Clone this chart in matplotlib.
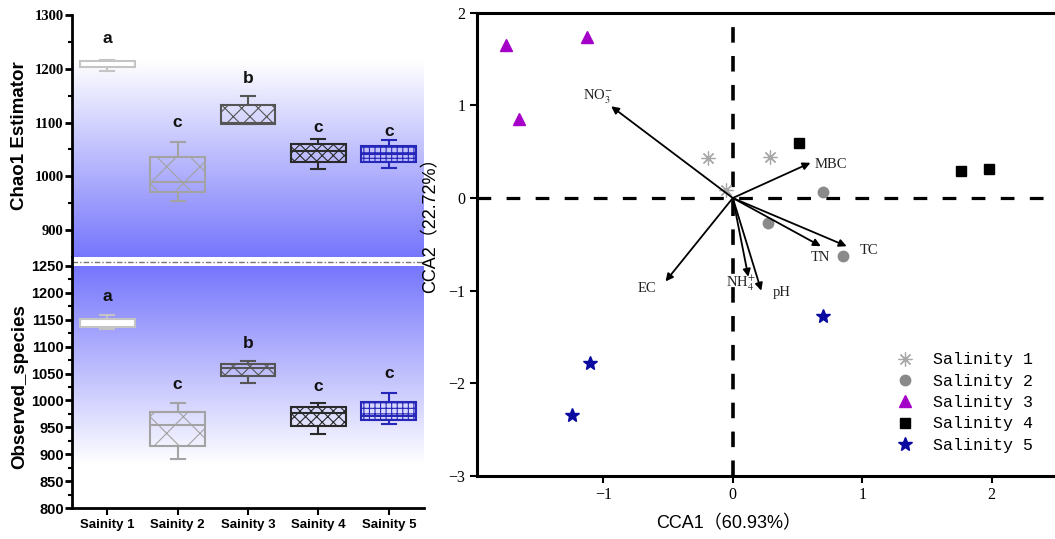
import numpy as np
import matplotlib
matplotlib.use("Agg")
import matplotlib.pyplot as plt
from matplotlib.lines import Line2D

plt.rcParams['mathtext.fontset'] = 'stix'

# ---------------- data ----------------
groups = ["Sainity 1", "Sainity 2", "Sainity 3", "Sainity 4", "Sainity 5"]
letters_chao = ["a", "c", "b", "c", "c"]
letters_obs = ["a", "c", "b", "c", "c"]

chao_whislo = [1196, 954, 1097, 1013, 1016]
chao_q1 = [1203, 970, 1098, 1026, 1026]
chao_med = [1210, 990, 1100, 1047, 1041]
chao_q3 = [1215, 1036, 1132, 1060, 1056]
chao_whishi = [1216, 1064, 1149, 1070, 1067]
chao_letter_y = [1257, 1101, 1181, 1091, 1083]

obs_whislo = [1133, 892, 1033, 938, 956]
obs_q1 = [1136, 916, 1045, 953, 963]
obs_med = [1138, 954, 1060, 977, 972]
obs_q3 = [1151, 978, 1067, 987, 998]
obs_whishi = [1158, 996, 1074, 995, 1014]
obs_letter_y = [1193, 1030, 1105, 1026, 1051]

box_colors = ["#c4c4c4", "#a3a3a3", "#555555", "#2a2a2a", "#2626b8"]
box_hatches = ["", "x", "xx", "xxx", "+++"]

# CCA sample scores
sal_names = ["Salinity 1", "Salinity 2", "Salinity 3", "Salinity 4", "Salinity 5"]
sal1_x = [-0.195, 0.29, -0.05]
sal1_y = [0.43, 0.44, 0.09]
sal2_x = [0.70, 0.27, 0.85]
sal2_y = [0.06, -0.27, -0.63]
sal3_x = [-1.75, -1.13, -1.65]
sal3_y = [1.65, 1.74, 0.85]
sal4_x = [0.51, 1.76, 1.98]
sal4_y = [0.59, 0.29, 0.31]
sal5_x = [0.70, -1.10, -1.24]
sal5_y = [-1.27, -1.78, -2.34]

# environmental vectors
env_names = ["NO$_3^{-}$", "MBC", "TC", "TN", "EC", "NH$_4^{+}$", "pH"]
env_x = [-0.94, 0.60, 0.88, 0.68, -0.52, 0.12, 0.22]
env_y = [0.99, 0.38, -0.52, -0.52, -0.90, -0.85, -1.00]

# ---------------- figure ----------------
fig = plt.figure(figsize=(10.55, 5.39), dpi=100)

L, W = 72 / 1055, 352 / 1055
H = 242 / 539
ax_top = fig.add_axes([L, 1 - 257 / 539, W, H])
ax_bot = fig.add_axes([L, 1 - 508 / 539, W, H])

blue = np.array([118, 118, 252]) / 255.0
white = np.array([1.0, 1.0, 1.0])


def gradient(ax, y_white, y_blue, x0=0.5, x1=5.5):
    n = 256
    t = np.linspace(0, 1, n)[:, None]
    img = (white[None, None, :] * (1 - t[..., None]) + blue[None, None, :] * t[..., None])
    img = np.repeat(img, 2, axis=1)
    lo, hi = min(y_white, y_blue), max(y_white, y_blue)
    ax.imshow(img, extent=[x0, x1, lo, hi], origin='lower' if y_white < y_blue else 'upper',
              aspect='auto', zorder=0, interpolation='bilinear')


positions = np.arange(1, 6)


def draw_boxes(ax, wl, q1, med, q3, wh, ly, letters):
    stats = []
    for i in range(5):
        stats.append(dict(med=med[i], q1=q1[i], q3=q3[i], whislo=wl[i], whishi=wh[i], fliers=[]))
    bp = ax.bxp(stats, positions=positions, widths=0.78, patch_artist=True,
                showfliers=False, capwidths=0.2, manage_ticks=False)
    for i in range(5):
        c = box_colors[i]
        b = bp['boxes'][i]
        b.set_facecolor('none' if i > 0 else 'white')
        b.set_edgecolor(c)
        b.set_hatch(box_hatches[i])
        b.set_linewidth(1.5)
        b.set_zorder(3)
        bp['medians'][i].set_color(c)
        bp['medians'][i].set_linewidth(1.5)
        for k in (2 * i, 2 * i + 1):
            bp['whiskers'][k].set_color(c)
            bp['whiskers'][k].set_linewidth(1.5)
            bp['caps'][k].set_color(c)
            bp['caps'][k].set_linewidth(1.5)
        ax.text(positions[i], ly[i], letters[i], ha='center', va='center',
                fontsize=12.5, fontweight='bold', family='Liberation Sans', color='#111111')


plt.rcParams['hatch.linewidth'] = 0.8

# top panel
gradient(ax_top, 1215, 850)
draw_boxes(ax_top, chao_whislo, chao_q1, chao_med, chao_q3, chao_whishi, chao_letter_y, letters_chao)
ax_top.set_xlim(0.5, 5.5)
ax_top.set_ylim(850, 1300)
ax_top.set_yticks([900, 1000, 1100, 1200, 1300])
ax_top.set_yticks([950, 1050, 1150, 1250], minor=True)
ax_top.set_xticks([])
for s in ['top', 'right', 'bottom']:
    ax_top.spines[s].set_visible(False)
ax_top.spines['left'].set_linewidth(2)
ax_top.tick_params(axis='y', which='major', length=5, width=2, labelsize=10.5, pad=1)
ax_top.tick_params(axis='y', which='minor', length=3, width=1.5)
for lab in ax_top.get_yticklabels():
    lab.set_family('Liberation Serif')
    lab.set_fontweight('bold')
ax_top.set_ylabel("Chao1 Estimator", fontsize=13.5, fontweight='bold', family='Liberation Sans')

# bottom panel
gradient(ax_bot, 880, 1250)
draw_boxes(ax_bot, obs_whislo, obs_q1, obs_med, obs_q3, obs_whishi, obs_letter_y, letters_obs)
ax_bot.set_xlim(0.5, 5.5)
ax_bot.set_ylim(800, 1250)
ax_bot.set_yticks(np.arange(800, 1251, 50))
ax_bot.set_yticks(np.arange(825, 1250, 50), minor=True)
ax_bot.set_xticks(positions)
ax_bot.set_xticklabels(groups)
for s in ['top', 'right']:
    ax_bot.spines[s].set_visible(False)
ax_bot.spines['left'].set_linewidth(2)
ax_bot.spines['bottom'].set_linewidth(2)
ax_bot.tick_params(axis='y', which='major', length=5, width=2, labelsize=10.5, pad=1)
ax_bot.tick_params(axis='y', which='minor', length=3, width=1.5)
ax_bot.tick_params(axis='x', length=5, width=1.5, labelsize=9.5, pad=3)
for lab in ax_bot.get_yticklabels() + ax_bot.get_xticklabels():
    lab.set_family('Liberation Sans')
    lab.set_fontweight('bold')
ax_bot.set_ylabel("Observed_species", fontsize=13.5, fontweight='bold', family='Liberation Sans')
ax_top.yaxis.set_label_coords(-0.125, 0.5)
ax_bot.yaxis.set_label_coords(-0.125, 0.5)

# break line
fig.add_artist(Line2D([L, L + W], [1 - 262 / 539] * 2, color='#777777', lw=1.0,
                      ls=(0, (4, 1.5, 1, 1.5)), transform=fig.transFigure))
fig.add_artist(Line2D([L, L], [1 - 257 / 539, 1 - 266 / 539], color='k', lw=2,
                      transform=fig.transFigure))

# ---------------- CCA panel ----------------
ax = fig.add_axes([476.6 / 1055, 1 - 476 / 539, 578.4 / 1055, 463.3 / 539])
ax.set_xlim(-1.98, 2.49)
ax.set_ylim(-3, 2)
ax.axhline(0, color='k', lw=2.3, ls=(0, (4.3, 4.8)), zorder=1)
ax.axvline(0, color='k', lw=2.6, ls=(0, (4.3, 3.7)), zorder=1)

ax.plot(sal1_x, sal1_y, ls='none', marker=(8, 2, 0), ms=10, mew=0.9, color='#a8a8a8',
        label=sal_names[0], zorder=2)
ax.plot(sal2_x, sal2_y, ls='none', marker='o', ms=7.5, color='#8a8a8a', label=sal_names[1], zorder=2)
ax.plot(sal3_x, sal3_y, ls='none', marker='^', ms=9, color='#a400c8', label=sal_names[2], zorder=2)
ax.plot(sal4_x, sal4_y, ls='none', marker='s', ms=7, color='black', label=sal_names[3], zorder=2)
ax.plot(sal5_x, sal5_y, ls='none', marker='*', ms=10, color='#0a0aa0', label=sal_names[4], zorder=2)

label_offsets = [(-0.10, 0.10), (0.03, -0.02), (0.10, -0.05), (0.0, -0.12),
                 (-0.14, -0.08), (-0.06, -0.07), (0.09, -0.02)]
label_ha = ['center', 'left', 'left', 'center', 'center', 'center', 'left']
for nm, x, y, off, ha in zip(env_names, env_x, env_y, label_offsets, label_ha):
    ax.annotate('', xy=(x, y), xytext=(0, 0),
                arrowprops=dict(arrowstyle='-|>', color='black', lw=1.3, mutation_scale=11,
                                shrinkA=0, shrinkB=0), zorder=3)
    ax.text(x + off[0], y + off[1], nm, ha=ha, va='center', fontsize=10.5,
            family='Liberation Serif', color='#222222', zorder=4)

for s in ['left', 'bottom', 'top']:
    ax.spines[s].set_linewidth(2.2)
ax.spines['right'].set_visible(False)
ax.set_xticks([-1, 0, 1, 2])
ax.set_yticks([-3, -2, -1, 0, 1, 2])
ax.tick_params(length=5, width=1.5, labelsize=11.5, pad=3)
for lab in ax.get_xticklabels() + ax.get_yticklabels():
    lab.set_family('Liberation Serif')
ax.set_xlabel("CCA1（60.93%）", fontsize=13, family=['Liberation Sans', 'Noto Sans CJK SC'])
ax.xaxis.set_label_coords(0.436, -0.085)
ax.set_ylabel("CCA2（22.72%）", fontsize=13, family=['Liberation Sans', 'Noto Sans CJK SC'])
ax.yaxis.set_label_coords(-0.065, 0.55)

leg = ax.legend(loc='upper left', bbox_to_anchor=(0.715, 0.281), frameon=False,
                prop={'family': 'Liberation Mono', 'size': 12}, handlelength=1.0,
                handletextpad=1.2, labelspacing=0.38, borderaxespad=0)

fig.savefig("out.png", dpi=100)
